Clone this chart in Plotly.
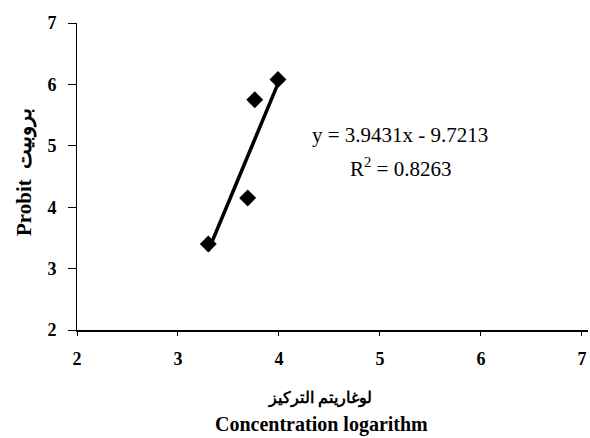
import plotly.graph_objects as go

# Data
conc_log = [3.30, 3.69, 3.76, 3.99]
probit = [3.40, 4.15, 5.75, 6.08]
slope = 3.9431
intercept = -9.7213
r2 = 0.8263
x_ticks = [2, 3, 4, 5, 6, 7]
y_ticks = [2, 3, 4, 5, 6, 7]

x_fit = [min(conc_log), max(conc_log)]
y_fit = [slope * v + intercept for v in x_fit]

serif = "Liberation Serif, Times New Roman, serif"

W, H = 590, 438
L, R, T, B = 77, 2, 23, 108
PW, PH = W - L - R, H - T - B


def px(x):
    return (x - L) / PW


def py(y):
    return (H - B - y) / PH


fig = go.Figure()
fig.add_trace(go.Scatter(x=x_fit, y=y_fit, mode="lines",
                         line=dict(color="black", width=3.5), showlegend=False))
fig.add_trace(go.Scatter(x=conc_log, y=probit, mode="markers",
                         marker=dict(symbol="diamond", size=13, color="black"),
                         showlegend=False))

eq_text = f"y = {slope}x - {abs(intercept)}"
fig.add_annotation(xref="paper", yref="paper", x=px(400), y=py(135),
                   text=eq_text, showarrow=False,
                   font=dict(family=serif, size=21, color="black"),
                   xanchor="center", yanchor="middle")
fig.add_annotation(xref="paper", yref="paper", x=px(400), y=py(167),
                   text=f"R<sup>2</sup> = {r2}", showarrow=False,
                   font=dict(family=serif, size=21, color="black"),
                   xanchor="center", yanchor="middle")
fig.add_annotation(xref="paper", yref="paper", x=px(320), y=py(398),
                   text="<b>لوغاريتم التركيز</b>", showarrow=False,
                   font=dict(family=serif, size=16, color="black"),
                   xanchor="center", yanchor="middle")
fig.add_annotation(xref="paper", yref="paper", x=px(321), y=py(424),
                   text="<b>Concentration logarithm</b>", showarrow=False,
                   font=dict(family=serif, size=20, color="black"),
                   xanchor="center", yanchor="middle")
fig.add_annotation(xref="paper", yref="paper", x=px(24), y=py(172),
                   text="<b>Probit</b>  <b>بروبيت</b>", showarrow=False, textangle=-90,
                   font=dict(family=serif, size=21, color="black"),
                   xanchor="center", yanchor="middle")

fig.update_layout(
    width=W, height=H, autosize=False,
    margin=dict(l=L, r=R, t=T, b=B),
    plot_bgcolor="white", paper_bgcolor="white",
    xaxis=dict(range=[2, 7.06], tickvals=x_ticks, ticktext=[f"<b>{v}</b>" for v in x_ticks],
               showgrid=False, zeroline=False, showline=True, linecolor="black", linewidth=1.5,
               ticks="outside", ticklen=4, tickcolor="black",
               tickfont=dict(family=serif, size=18, color="black"), ticklabelstandoff=8),
    yaxis=dict(range=[2, 7], tickvals=y_ticks, ticktext=[f"<b>{v}</b>" for v in y_ticks],
               showgrid=False, zeroline=False, showline=True, linecolor="black", linewidth=1,
               ticks="outside", ticklen=8, tickcolor="black",
               tickfont=dict(family=serif, size=18, color="black"), ticklabelstandoff=8),
)

fig.write_html("out.html", config={"displayModeBar": False},
               post_script="document.body.style.margin='0';")
